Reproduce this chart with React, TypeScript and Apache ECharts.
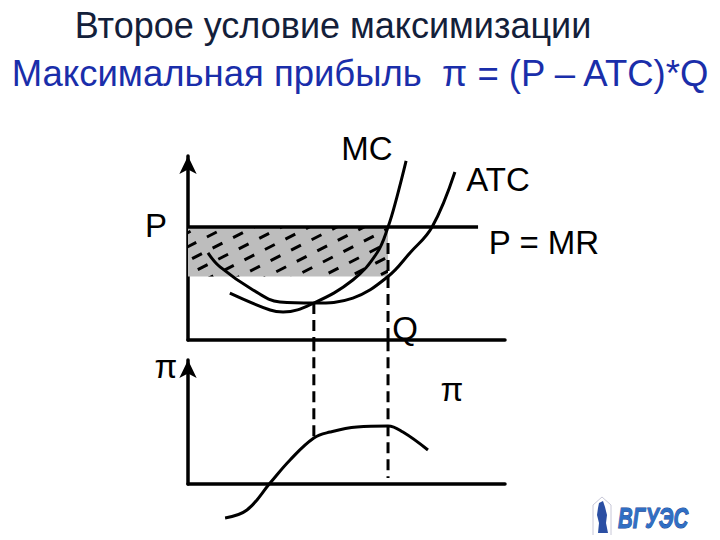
import React, { useEffect, useRef } from "react";
import * as echarts from "echarts";

// Top panel: price/cost (P) against quantity (Q)
const mcQ = [1.32, 2.59, 3.0, 3.97, 5.2, 5.96, 6.31, 6.59, 6.88];
const mcP = [2.55, 1.63, 1.52, 2.01, 3.26, 4.73, 6.14, 7.77, 9.73];
const atcQ = [0.63, 1.01, 2.05, 2.9, 3.97, 5.2, 6.31, 7.0, 7.7, 8.42];
const atcP = [4.73, 3.97, 2.72, 2.07, 2.01, 2.28, 3.45, 4.73, 6.14, 9.13];
const price = 6.14;
const priceLineEnd = 9.15;
const qStar = 6.31;
const qAtcMin = 3.97;
const atcMin = 2.01;
const atcAtQStar = 3.45;
const mcDashStart = 5.27;

// Bottom panel: profit (π) against quantity (Q)
const profitQ = [1.17, 1.86, 2.59, 3.22, 3.97, 4.48, 5.33, 6.31, 6.78, 7.57];
const profitV = [-2.74, -2.1, 0.08, 1.94, 3.71, 4.19, 4.6, 4.68, 4.19, 2.74];
const profitAtQAtcMin = 3.71;
const profitAtQStarEnd = 0.48;
const profitPanelTop = 11.6;

const FONT = "'Liberation Sans', Arial, sans-serif";

const zip = (xs: number[], ys: number[]) => xs.map((x, i) => [x, ys[i]]);

export default function App() {
  const ref = useRef<HTMLDivElement>(null);
  useEffect(() => {
    document.body.style.margin = "0";
    const chart = echarts.init(ref.current!, undefined, { renderer: "svg" });
    const axisLine = (arrow: boolean) => ({
      show: true,
      symbol: arrow ? ["none", "arrow"] : ["none", "none"],
      symbolSize: [13, 18],
      lineStyle: { color: "#000", width: 3.5 },
    });
    const baseX = (gridIndex: number) => ({
      type: "value",
      gridIndex,
      min: 0,
      max: 10,
      axisLine: axisLine(false),
      axisTick: { show: false },
      axisLabel: { show: false },
      splitLine: { show: false },
    });
    const baseY = (gridIndex: number) => ({
      type: "value",
      gridIndex,
      min: 0,
      max: 10,
      axisLine: axisLine(true),
      axisTick: { show: false },
      axisLabel: { show: false },
      splitLine: { show: false },
    });
    const curve = { color: "#000", width: 3 };
    const dashed = { color: "#000", width: 3, type: [11, 6] as any };
    const text = (t: string, x: number, y: number, size = 33, extra: any = {}) => ({
      type: "text",
      x,
      y,
      style: {
        text: t,
        fontSize: size,
        fontFamily: FONT,
        fill: "#000",
        textAlign: "center",
        textVerticalAlign: "middle",
        ...extra,
      },
    });

    chart.setOption({
      animation: false,
      backgroundColor: "#fff",
      grid: [
        { left: 188, top: 156, width: 317, height: 184 },
        { left: 188, top: 360, width: 317, height: 124 },
      ],
      xAxis: [baseX(0), baseX(1)],
      yAxis: [baseY(0), baseY(1)],
      series: [
        {
          type: "custom",
          xAxisIndex: 0,
          yAxisIndex: 0,
          z: 1,
          clip: false,
          data: [[0, price, qStar, atcAtQStar]],
          encode: { x: [0, 2], y: [1, 3] },
          renderItem: (params: any, api: any) => {
            const p0 = api.coord([api.value(0), api.value(1)]);
            const p1 = api.coord([api.value(2), api.value(3)]);
            const rx = p0[0];
            const ry = p0[1];
            const rw = p1[0] - p0[0];
            const rh = p1[1] - p0[1];
            const ang = (27 * Math.PI) / 180;
            const dx = Math.cos(ang);
            const dy = -Math.sin(ang);
            const nx = Math.sin(ang);
            const ny = Math.cos(ang);
            const cx = rx + rw / 2;
            const cy = ry + rh / 2;
            const L = rw + rh;
            const lines: any[] = [];
            for (let k = -14; k <= 14; k++) {
              const off = k * 12.5;
              const px = cx + nx * off;
              const py = cy + ny * off;
              lines.push({
                type: "line",
                shape: { x1: px - dx * L, y1: py - dy * L, x2: px + dx * L, y2: py + dy * L },
                style: { stroke: "#000", lineWidth: 3, lineDash: [11, 12], fill: null },
              });
            }
            return {
              type: "group",
              children: [
                {
                  type: "rect",
                  shape: { x: rx, y: ry, width: rw, height: rh },
                  style: { fill: "#bdbdbd" },
                },
                {
                  type: "group",
                  children: lines,
                  clipPath: { type: "rect", shape: { x: rx, y: ry, width: rw, height: rh } },
                },
              ],
            };
          },
        },
        {
          type: "line",
          xAxisIndex: 0,
          yAxisIndex: 0,
          data: [[0, price], [priceLineEnd, price]],
          symbol: "none",
          lineStyle: { color: "#000", width: 3.5 },
          z: 3,
        },
        {
          type: "line",
          xAxisIndex: 0,
          yAxisIndex: 0,
          data: zip(mcQ, mcP),
          smooth: 0.4,
          symbol: "none",
          lineStyle: curve,
          z: 4,
        },
        {
          type: "line",
          xAxisIndex: 0,
          yAxisIndex: 0,
          data: zip(atcQ, atcP),
          smooth: 0.4,
          symbol: "none",
          lineStyle: curve,
          z: 4,
        },
        {
          type: "line",
          xAxisIndex: 0,
          yAxisIndex: 0,
          data: [[qAtcMin, atcMin], [qAtcMin, 0]],
          symbol: "none",
          lineStyle: dashed,
          z: 2,
        },
        {
          type: "line",
          xAxisIndex: 0,
          yAxisIndex: 0,
          data: [[qStar, mcDashStart], [qStar, 0]],
          symbol: "none",
          lineStyle: dashed,
          z: 2,
        },
        {
          type: "line",
          xAxisIndex: 1,
          yAxisIndex: 1,
          clip: false,
          data: zip(profitQ, profitV),
          smooth: 0.4,
          symbol: "none",
          lineStyle: curve,
          z: 4,
        },
        {
          type: "line",
          xAxisIndex: 1,
          yAxisIndex: 1,
          clip: false,
          data: [[qAtcMin, profitPanelTop], [qAtcMin, profitAtQAtcMin]],
          symbol: "none",
          lineStyle: dashed,
          z: 2,
        },
        {
          type: "line",
          xAxisIndex: 1,
          yAxisIndex: 1,
          clip: false,
          data: [[qStar, profitPanelTop], [qStar, profitAtQStarEnd]],
          symbol: "none",
          lineStyle: dashed,
          z: 2,
        },
      ],
      graphic: [
        text("Второе условие максимизации", 333, 25, 36, { fill: "#13203a" }),
        text("Максимальная прибыль  π = (P – ATC)*Q", 360, 73, 36.5, { fill: "#1a2eaa" }),
        text("MC", 367, 148),
        text("ATC", 498, 179),
        text("P", 156, 225),
        text("P = MR", 544, 242),
        text("Q", 405, 328),
        text("π", 166, 366),
        text("π", 452, 389),
        {
          type: "group",
          x: 590,
          y: 495,
          children: [
            {
              type: "polyline",
              shape: { points: [[3, 40], [3, 10], [12, 2], [21, 10], [21, 40]] },
              style: { stroke: "#c8c8d8", lineWidth: 1, fill: null },
            },
            {
              type: "polygon",
              shape: {
                points: [[9, 8], [13, 6], [15, 12], [17, 20], [16, 28], [18, 38], [8, 38], [9, 28], [7, 20], [8, 13]],
              },
              style: { fill: "#2b4fa3" },
            },
            {
              type: "text",
              x: 28,
              y: 22,
              scaleX: 0.68,
              style: {
                text: "ВГУЭС",
                fontSize: 30,
                fontStyle: "italic",
                fontWeight: "bold",
                fontFamily: FONT,
                fill: "#2f6fc4",
                stroke: "#1a3f8f",
                lineWidth: 1,
                textAlign: "left",
                textVerticalAlign: "middle",
              },
            },
          ],
        },
      ],
    });
    return () => chart.dispose();
  }, []);
  return <div ref={ref} style={{ width: 720, height: 540 }} />;
}
